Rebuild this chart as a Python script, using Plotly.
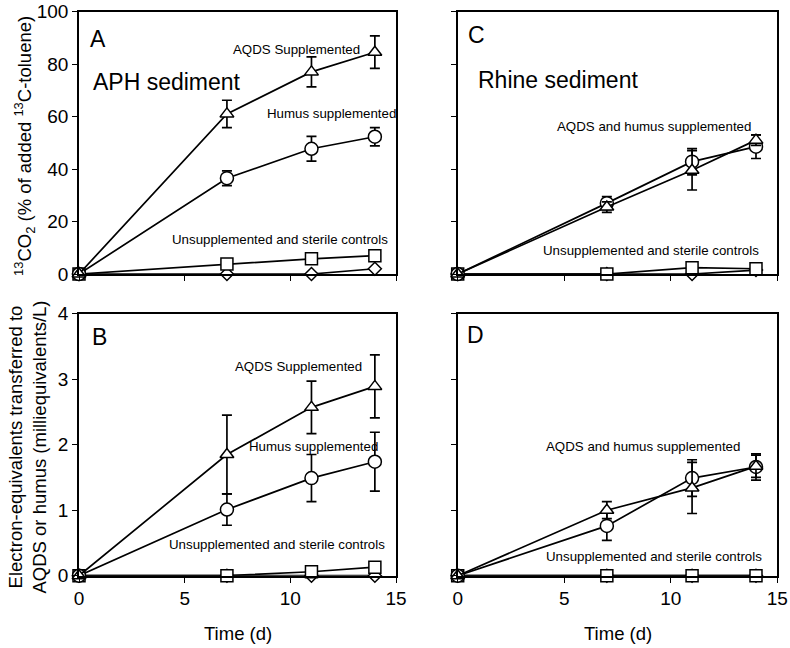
import plotly.graph_objects as go

# ---------------- data ----------------
days = [0, 7, 11, 14]

# Panel A: APH sediment, 13CO2 (% of added 13C-toluene)
aph_co2_aqds = [0, 61.0, 77.0, 84.5]
aph_co2_aqds_err = [None, 5.2, 5.7, 6.2]
aph_co2_humus = [0, 36.5, 47.7, 52.3]
aph_co2_humus_err = [None, 2.8, 4.7, 3.5]
aph_co2_unsup = [0, 3.8, 5.8, 7.0]
aph_co2_sterile = [0, 0, 0, 2.0]

# Panel B: APH sediment, electron equivalents (meq/L)
aph_ee_aqds = [0, 1.85, 2.57, 2.89]
aph_ee_aqds_err = [None, 0.60, 0.40, 0.48]
aph_ee_humus = [0, 1.01, 1.49, 1.74]
aph_ee_humus_err = [None, 0.24, 0.36, 0.45]
aph_ee_unsup = [0, 0, 0.06, 0.13]
aph_ee_sterile = [0, 0, 0, 0]

# Panel C: Rhine sediment, 13CO2
rh_co2_aqds = [0, 25.5, 39.5, 51.0]
rh_co2_aqds_err = [None, 2.0, 7.5, 2.0]
rh_co2_humus = [0, 27.0, 42.8, 48.5]
rh_co2_humus_err = [None, 2.5, 5.0, 4.5]
rh_co2_unsup = [0, 0, 2.4, 2.0]
rh_co2_sterile = [0, 0, 0, 1.5]

# Panel D: Rhine sediment, electron equivalents
rh_ee_aqds = [0, 1.00, 1.34, 1.67]
rh_ee_aqds_err = [None, 0.13, 0.39, 0.17]
rh_ee_humus = [0, 0.76, 1.49, 1.66]
rh_ee_humus_err = [None, 0.22, 0.28, 0.20]
rh_ee_unsup = [0, 0, 0, 0]
rh_ee_sterile = [0, 0, 0, 0]

x_ticks = [0, 5, 10, 15]
co2_ticks = [0, 20, 40, 60, 80, 100]
ee_ticks = [0, 1, 2, 3, 4]

FONT = "Liberation Sans, Arial, sans-serif"
fig = go.Figure()


def add_series(y, err, symbol, size, xa, ya):
    kw = {}
    if err is not None:
        kw["error_y"] = dict(type="data", array=err, visible=True,
                             color="black", thickness=1.7, width=5)
    fig.add_trace(go.Scatter(
        x=days, y=y, mode="lines+markers", xaxis=xa, yaxis=ya,
        line=dict(color="black", width=1.7),
        marker=dict(symbol=symbol, size=size, color="white",
                    line=dict(color="black", width=1.5)),
        cliponaxis=False, showlegend=False, **kw))


panels = [
    ("x", "y", aph_co2_aqds, aph_co2_aqds_err, aph_co2_humus, aph_co2_humus_err, aph_co2_unsup, aph_co2_sterile),
    ("x2", "y2", aph_ee_aqds, aph_ee_aqds_err, aph_ee_humus, aph_ee_humus_err, aph_ee_unsup, aph_ee_sterile),
    ("x3", "y3", rh_co2_aqds, rh_co2_aqds_err, rh_co2_humus, rh_co2_humus_err, rh_co2_unsup, rh_co2_sterile),
    ("x4", "y4", rh_ee_aqds, rh_ee_aqds_err, rh_ee_humus, rh_ee_humus_err, rh_ee_unsup, rh_ee_sterile),
]
for xa, ya, aq, aqe, hu, hue, un, st in panels:
    add_series(st, None, "diamond", 10, xa, ya)
    add_series(un, None, "square", 12, xa, ya)
    add_series(hu, hue, "circle", 13, xa, ya)
    add_series(aq, aqe, "triangle-up", 12, xa, ya)

# the page's body margin is removed (see post_script) so the figure fills the window
W, H = 790, 648


def px(p):
    return p / W


def py(p):
    return 1 - p / H


xl = [px(79), px(396)]
xr = [px(457.7), px(777.3)]
yt = [py(274), py(11.5)]
yb = [py(575.7), py(313.7)]

common = dict(showline=True, mirror=True, linecolor="black", linewidth=1.7,
              ticks="outside", ticklen=5, tickcolor="black", tickwidth=1.2,
              showgrid=False, zeroline=False, automargin=False,
              tickfont=dict(family=FONT, size=19, color="black"))

xcommon = dict(common, range=[0, 15], tickvals=x_ticks)
fig.update_layout(
    width=W, height=H, margin=dict(l=0, r=0, t=0, b=0, pad=0, autoexpand=False),
    paper_bgcolor="white", plot_bgcolor="white",
    font=dict(family=FONT, color="black"),
    xaxis=dict(xcommon, domain=xl, anchor="y", showticklabels=False),
    yaxis=dict(common, domain=yt, anchor="x", range=[0, 100], tickvals=co2_ticks),
    xaxis2=dict(xcommon, domain=xl, anchor="y2"),
    yaxis2=dict(common, domain=yb, anchor="x2", range=[0, 4], tickvals=ee_ticks),
    xaxis3=dict(xcommon, domain=xr, anchor="y3", showticklabels=False),
    yaxis3=dict(common, domain=yt, anchor="x3", range=[0, 100], tickvals=co2_ticks, showticklabels=False),
    xaxis4=dict(xcommon, domain=xr, anchor="y4"),
    yaxis4=dict(common, domain=yb, anchor="x4", range=[0, 4], tickvals=ee_ticks, showticklabels=False),
)

ann = []


def txt(text, x, y, xref, yref, size, xanchor="left"):
    ann.append(dict(text=text, x=x, y=y, xref=xref, yref=yref, showarrow=False,
                    xanchor=xanchor, yanchor="middle",
                    font=dict(family=FONT, size=size, color="black")))


# Panel A
txt("A", 0.42, 89.5, "x", "y", 23)
txt("APH sediment", 0.58, 73.0, "x", "y", 23)
txt("AQDS Supplemented", 7.2, 85.6, "x", "y", 13.3)
txt("Humus supplemented", 8.8, 61.0, "x", "y", 13.3)
txt("Unsupplemented and sterile controls", 4.3, 13.2, "x", "y", 13.3)
# Panel B
txt("B", 0.5, 3.65, "x2", "y2", 23)
txt("AQDS Supplemented", 7.3, 3.19, "x2", "y2", 13.3)
txt("Humus supplemented", 7.95, 1.97, "x2", "y2", 13.3)
txt("Unsupplemented and sterile controls", 4.15, 0.48, "x2", "y2", 13.3)
# Panel C
txt("C", 0.4, 91.0, "x3", "y3", 23)
txt("Rhine sediment", 0.87, 73.9, "x3", "y3", 23)
txt("AQDS and humus supplemented", 4.55, 56.1, "x3", "y3", 13.3)
txt("Unsupplemented and sterile controls", 3.92, 9.1, "x3", "y3", 13.3)
# Panel D
txt("D", 0.33, 3.67, "x4", "y4", 23)
txt("AQDS and humus supplemented", 4.07, 1.97, "x4", "y4", 13.3)
txt("Unsupplemented and sterile controls", 4.07, 0.29, "x4", "y4", 13.3)

# axis titles
ann.append(dict(text="<sup>13</sup>CO<sub>2</sub> (% of added <sup>13</sup>C-toluene)",
                x=px(24), y=py(146), xref="paper", yref="paper", showarrow=False,
                textangle=-90, xanchor="center", yanchor="middle",
                font=dict(family=FONT, size=18.5, color="black")))
ann.append(dict(text="Electron-equivalents transferred to<br>AQDS or humus (milliequivalents/L)",
                x=px(27.5), y=py(447), xref="paper", yref="paper", showarrow=False,
                textangle=-90, xanchor="center", yanchor="middle",
                font=dict(family=FONT, size=18.5, color="black")))
for cx in (237.5, 617.5):
    ann.append(dict(text="Time (d)", x=px(cx), y=py(633), xref="paper", yref="paper",
                    showarrow=False, xanchor="center", yanchor="middle",
                    font=dict(family=FONT, size=18.5, color="black")))

fig.update_layout(annotations=ann)
fig.write_html(
    "out.html",
    config={"displayModeBar": False},
    post_script="document.body.style.margin='0';document.body.style.overflow='hidden';",
)
